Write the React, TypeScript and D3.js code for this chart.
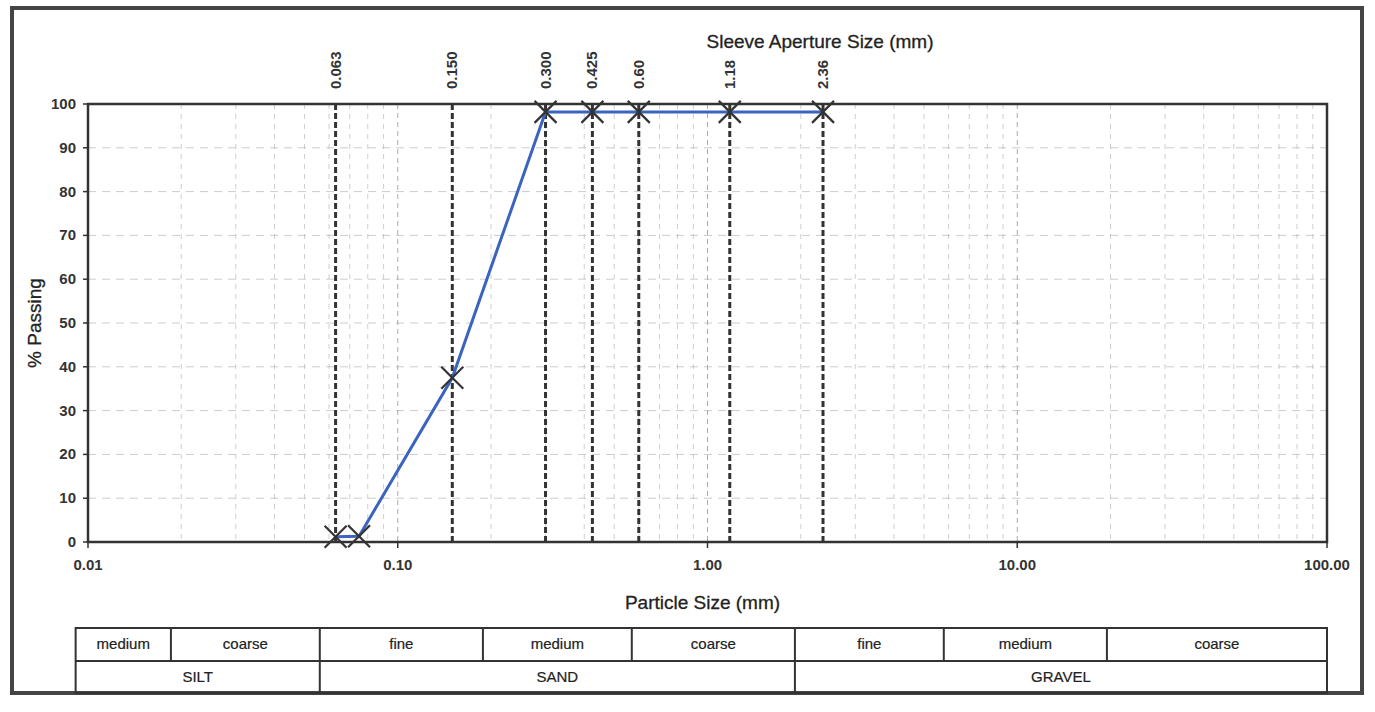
import React, { useEffect } from "react";
import * as d3 from "d3";

// sieve results
const sieveSizes = [0.063, 0.15, 0.3, 0.425, 0.6, 1.18, 2.36];
const sieveLabels = ["0.063", "0.150", "0.300", "0.425", "0.60", "1.18", "2.36"];
const sizes = [0.063, 0.075, 0.15, 0.3, 0.425, 0.6, 1.18, 2.36];
const passing = [1.2, 1.3, 37.5, 98.2, 98.2, 98.2, 98.2, 98.2];

const xTicks = [0.01, 0.1, 1, 10, 100];
const yTicks = [0, 10, 20, 30, 40, 50, 60, 70, 80, 90, 100];

// classification table
const subBounds = [0.0099, 0.02, 0.06, 0.2, 0.6, 2, 6, 20, 100];
const subNames = ["medium", "coarse", "fine", "medium", "coarse", "fine", "medium", "coarse"];
const mainBounds = [0.0099, 0.06, 2, 100];
const mainNames = ["SILT", "SAND", "GRAVEL"];

const W = 1375;
const H = 712;
const font = "'Liberation Sans', Arial, sans-serif";

export default function App() {
  useEffect(() => {
    document.body.style.margin = "0";
  }, []);

  const x = d3.scaleLog().domain([0.01, 100]).range([88, 1327]);
  const y = d3.scaleLinear().domain([0, 100]).range([542, 104]);
  const tx = d3.scaleLog().domain([0.01, 100]).range([77, 1325]);

  // minor log grid
  const minor: number[] = [];
  for (let e = -2; e < 2; e++) {
    for (let m = 2; m < 10; m++) minor.push(m * Math.pow(10, e));
  }

  const line = d3
    .line<number>()
    .x((d, i) => x(sizes[i]))
    .y((d) => y(d));

  const tTop = 628;
  const tMid = 661;
  const tBot = 693;

  return (
    <svg width={W} height={H} style={{ display: "block", background: "#fff" }} fontFamily={font}>
      {/* page frame */}
      <rect x={12} y={8} width={1350} height={685} fill="none" stroke="#444" strokeWidth={4} />

      {/* grid */}
      {yTicks.slice(1, -1).map((t) => (
        <line key={"hg" + t} x1={x(0.01)} x2={x(100)} y1={y(t)} y2={y(t)}
          stroke="#ccc" strokeWidth={1} strokeDasharray="8,6" />
      ))}
      {minor.map((m, i) => (
        <line key={"vg" + i} x1={x(m)} x2={x(m)} y1={y(100)} y2={y(0)}
          stroke="#aaa" strokeWidth={1} strokeDasharray="5,5" opacity={0.55} />
      ))}
      {xTicks.slice(1, -1).map((t) => (
        <line key={"vd" + t} x1={x(t)} x2={x(t)} y1={y(100)} y2={y(0)}
          stroke="#aaa" strokeWidth={1} strokeDasharray="5,4" />
      ))}

      {/* sieve aperture lines */}
      {sieveSizes.map((s, i) => (
        <g key={"sv" + i}>
          <line x1={x(s)} x2={x(s)} y1={y(100)} y2={y(0)}
            stroke="#333" strokeWidth={3} strokeDasharray="6,3" />
          <text transform={`translate(${x(s) + 5},89) rotate(-90)`} fontSize={15}
            fontWeight="bold" fill="#333">{sieveLabels[i]}</text>
        </g>
      ))}

      {/* plot frame */}
      <rect x={x(0.01)} y={y(100)} width={x(100) - x(0.01)} height={y(0) - y(100)}
        fill="none" stroke="#333" strokeWidth={2.5} />

      {/* axes ticks */}
      {yTicks.map((t) => (
        <g key={"yt" + t}>
          <line x1={x(0.01) - 5} x2={x(0.01)} y1={y(t)} y2={y(t)} stroke="#333" strokeWidth={1.5} />
          <text x={x(0.01) - 12} y={y(t) + 5} textAnchor="end" fontSize={15} fontWeight="bold" fill="#333">
            {t}
          </text>
        </g>
      ))}
      {xTicks.map((t) => (
        <g key={"xt" + t}>
          <line x1={x(t)} x2={x(t)} y1={y(0)} y2={y(0) + 6} stroke="#333" strokeWidth={1.5} />
          <text x={x(t)} y={y(0) + 28} textAnchor="middle" fontSize={15} fontWeight="bold" fill="#333">
            {t.toFixed(2)}
          </text>
        </g>
      ))}

      {/* axis titles */}
      <text x={(x(0.01) + x(100)) / 2 - 5} y={609} textAnchor="middle" fontSize={19} fill="#222"
        stroke="#222" strokeWidth={0.3}>
        Particle Size (mm)
      </text>
      <text transform={`translate(41,${(y(0) + y(100)) / 2}) rotate(-90)`} textAnchor="middle" fontSize={19}
        fill="#222" stroke="#222" strokeWidth={0.3}>
        % Passing
      </text>
      <text x={820} y={48} textAnchor="middle" fontSize={19} fill="#222" stroke="#222" strokeWidth={0.3}>
        Sleeve Aperture Size (mm)
      </text>

      {/* grading curve */}
      <path d={line(passing) || ""} fill="none" stroke="#3a64c0" strokeWidth={3} />
      {passing.map((p, i) => {
        const cx = x(sizes[i]);
        const cy = y(p);
        const r = 11;
        return (
          <g key={"pt" + i} stroke="#333" strokeWidth={2.2}>
            <line x1={cx - r} x2={cx + r} y1={cy - r} y2={cy + r} />
            <line x1={cx - r} x2={cx + r} y1={cy + r} y2={cy - r} />
          </g>
        );
      })}

      {/* classification table */}
      <g stroke="#333" strokeWidth={2} fill="none">
        <rect x={tx(subBounds[0])} y={tTop} width={x(100) - tx(subBounds[0])} height={tBot - tTop} />
        <line x1={tx(subBounds[0])} x2={x(100)} y1={tMid} y2={tMid} />
        {subBounds.slice(1, -1).map((b, i) => (
          <line key={"sb" + i} x1={tx(b)} x2={tx(b)} y1={tTop} y2={tMid} />
        ))}
        {mainBounds.slice(1, -1).map((b, i) => (
          <line key={"mb" + i} x1={tx(b)} x2={tx(b)} y1={tMid} y2={tBot} />
        ))}
      </g>
      {subNames.map((n, i) => {
        const a = tx(subBounds[i]);
        const b = i === subNames.length - 1 ? x(100) : tx(subBounds[i + 1]);
        return (
          <text key={"sn" + i} x={(a + b) / 2} y={tTop + 21} textAnchor="middle" fontSize={15} fill="#222"
            stroke="#222" strokeWidth={0.2}>
            {n}
          </text>
        );
      })}
      {mainNames.map((n, i) => {
        const a = tx(mainBounds[i]);
        const b = i === mainNames.length - 1 ? x(100) : tx(mainBounds[i + 1]);
        return (
          <text key={"mn" + i} x={(a + b) / 2} y={tMid + 21} textAnchor="middle" fontSize={15} fill="#222"
            stroke="#222" strokeWidth={0.2}>
            {n}
          </text>
        );
      })}
    </svg>
  );
}
